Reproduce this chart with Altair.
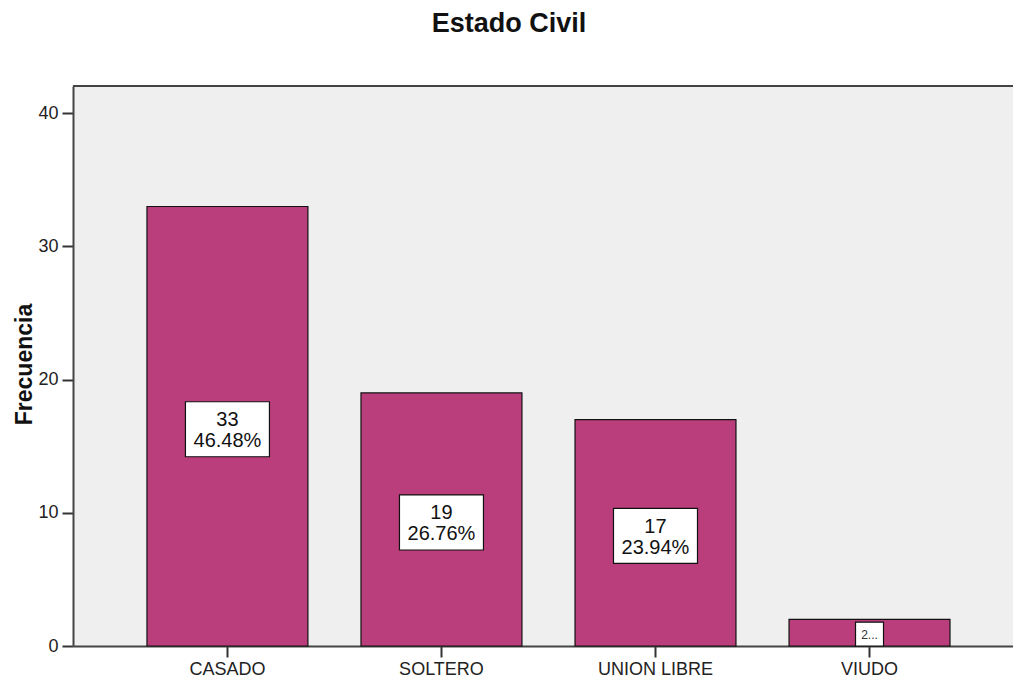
import altair as alt
import pandas as pd

categories = ["CASADO", "SOLTERO", "UNION LIBRE", "VIUDO"]
counts = [33, 19, 17, 2]
percents = ["46.48%", "26.76%", "23.94%", "2.82%"]
box_labels = ["33\n46.48%", "19\n26.76%", "17\n23.94%", "2..."]

df = pd.DataFrame({
    "cat": categories,
    "count": counts,
    "pct": percents,
    "label": box_labels,
})
df["mid"] = df["count"] / 2

FONT = "Liberation Sans"

x_enc = alt.X(
    "cat:N",
    sort=categories,
    scale=alt.Scale(paddingInner=0.248, paddingOuter=0.32, align=0.54),
    axis=alt.Axis(
        title=None, labelAngle=0, labelFontSize=18, labelFont=FONT,
        labelColor="#222", tickSize=11, tickColor="#333", tickWidth=2,
        domainColor="#444", domainWidth=2, labelPadding=3,
    ),
)
y_scale = alt.Scale(domain=[0, 42.05], nice=False)

bars = alt.Chart(df).mark_bar(
    color="#BA3E7B", stroke="#111", strokeWidth=1.2
).encode(
    x=x_enc,
    y=alt.Y(
        "count:Q", scale=y_scale,
        axis=alt.Axis(
            title="Frecuencia", values=[0, 10, 20, 30, 40], grid=False,
            labelFontSize=18, labelFont=FONT, labelColor="#222",
            tickSize=11, tickColor="#333", tickWidth=2, labelPadding=4,
            domainColor="#444", domainWidth=2,
            titleFontSize=23, titleFont=FONT, titleFontWeight="bold",
            titleColor="#111", titleX=-49, titleY=278, titleBaseline="middle",
            titleAngle=270,
        ),
    ),
)

big = df[df["count"] >= 10]
small = df[df["count"] < 10]

box_big = alt.Chart(big).mark_point(
    shape="M-1,-0.655L1,-0.655L1,0.655L-1,0.655Z", size=7056,
    filled=True, fill="white", stroke="#111", strokeWidth=1.2, opacity=1,
).encode(x=alt.X("cat:N", sort=categories), y=alt.Y("mid:Q", scale=y_scale),
         yOffset=alt.value(3))

text_big = alt.Chart(big).mark_text(
    font=FONT, fontSize=20, color="#111", lineBreak="\n", lineHeight=21,
    baseline="middle", dy=-6,
).encode(x=alt.X("cat:N", sort=categories), y=alt.Y("mid:Q", scale=y_scale),
         text="label:N")

box_small = alt.Chart(small).mark_point(
    shape="M-1,-0.857L1,-0.857L1,0.857L-1,0.857Z", size=784,
    filled=True, fill="white", stroke="#111", strokeWidth=1.2, opacity=1,
).encode(x=alt.X("cat:N", sort=categories), y=alt.Y("mid:Q", scale=y_scale),
         yOffset=alt.value(1.5))

text_small = alt.Chart(small).mark_text(
    font=FONT, fontSize=12, color="#333", baseline="middle", dy=2,
).encode(x=alt.X("cat:N", sort=categories), y=alt.Y("mid:Q", scale=y_scale),
         text="label:N")

top_border = alt.Chart(df).mark_rule(color="#444", strokeWidth=2).encode(
    x=alt.value(0), x2=alt.value(940), y=alt.value(0)
)

chart = alt.layer(bars, box_big, text_big, box_small, text_small, top_border).properties(
    width=940, height=560,
    view=alt.ViewBackground(fill="#EFEFEF", stroke="transparent"),
    title=alt.TitleParams(
        "Estado Civil", font=FONT, fontSize=27, fontWeight="bold", color="#111",
        anchor="middle", dx=-34, offset=26, baseline="alphabetic",
    ),
    autosize=alt.AutoSizeParams(type="none"),
    padding={"left": 73, "top": 86, "right": 0, "bottom": 31},
).configure(background="white")

chart.save("out.html", embed_options={"renderer": "svg", "actions": False})
